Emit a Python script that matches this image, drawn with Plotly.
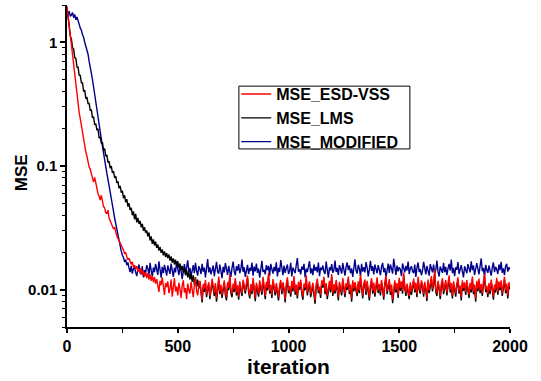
import plotly.graph_objects as go

# iteration axis (sampled every 5 iterations)
iterations = list(range(0, 2001, 5))

mse_esd_vss = [
    # 0 - 400
    1.95, 1.62, 1.35, 1.10, 0.92, 0.76, 0.64, 0.53, 0.45, 0.37,
    0.31, 0.27, 0.24, 0.21, 0.19, 0.165, 0.15, 0.13, 0.12, 0.105,
    0.098, 0.094, 0.088, 0.080, 0.074, 0.081, 0.072, 0.066, 0.060, 0.057,
    0.053, 0.058, 0.050, 0.047, 0.046, 0.042, 0.041, 0.044, 0.038, 0.036,
    0.035, 0.033, 0.031, 0.032, 0.029, 0.027, 0.026, 0.025, 0.024, 0.0225,
    0.022, 0.021, 0.0195, 0.020, 0.0185, 0.0175, 0.018, 0.0165, 0.016, 0.0168,
    0.0152, 0.0158, 0.0148, 0.0155, 0.0140, 0.0147, 0.0136, 0.0150, 0.0132, 0.0141,
    0.0128, 0.0138, 0.0124, 0.0136, 0.0121, 0.0133, 0.0118, 0.0129, 0.0115, 0.0127,
    0.0112,
    # 405 - 2000
    0.0122, 0.0104, 0.0096, 0.0118, 0.0109, 0.0126, 0.0099, 0.0091, 0.0113, 0.0105,
    0.0117, 0.0094, 0.0102, 0.0121, 0.0088, 0.0110, 0.0124, 0.0097, 0.0106, 0.0090,
    0.0114, 0.0101, 0.0086, 0.0108, 0.0119, 0.0095, 0.0103, 0.0084, 0.0112, 0.0099,
    0.0093, 0.0116, 0.0104, 0.0087, 0.0109, 0.0125, 0.0098, 0.0090, 0.0107, 0.0118,
    0.0096, 0.0083, 0.0111, 0.0102, 0.0120, 0.0092, 0.0105, 0.0115, 0.0089, 0.0100,
    0.0123, 0.0106, 0.0094, 0.0113, 0.0085, 0.0102, 0.0128, 0.0097, 0.0110, 0.0091,
    0.0108, 0.0119, 0.0096, 0.0087, 0.0115, 0.0104, 0.0133, 0.0099, 0.0092, 0.0112,
    0.0101, 0.0124, 0.0095, 0.0109, 0.0088, 0.0117, 0.0103, 0.0094, 0.0121, 0.0106,
    0.0098, 0.0113, 0.0130, 0.0100, 0.0090, 0.0111, 0.0097, 0.0125, 0.0105, 0.0086,
    0.0114, 0.0102, 0.0093, 0.0119, 0.0108, 0.0096, 0.0127, 0.0101, 0.0089, 0.0116,
    0.0104, 0.0137, 0.0098, 0.0110, 0.0091, 0.0122, 0.0106, 0.0095, 0.0113, 0.0100,
    0.0087, 0.0109, 0.0120, 0.0097, 0.0115, 0.0103, 0.0084, 0.0111, 0.0126, 0.0099,
    0.0107, 0.0093, 0.0118, 0.0102, 0.0129, 0.0096, 0.0110, 0.0090, 0.0116, 0.0105,
    0.0121, 0.0098, 0.0088, 0.0112, 0.0104, 0.0131, 0.0095, 0.0108, 0.0117, 0.0092,
    0.0101, 0.0114, 0.0096, 0.0082, 0.0110, 0.0123, 0.0099, 0.0106, 0.0091, 0.0119,
    0.0109, 0.0127, 0.0097, 0.0113, 0.0089, 0.0104, 0.0118, 0.0100, 0.0134, 0.0094,
    0.0111, 0.0098, 0.0120, 0.0103, 0.0087, 0.0116, 0.0107, 0.0095, 0.0124, 0.0100,
    0.0092, 0.0113, 0.0105, 0.0128, 0.0097, 0.0110, 0.0085, 0.0119, 0.0102, 0.0115,
    0.0106, 0.0094, 0.0117, 0.0099, 0.0132, 0.0103, 0.0090, 0.0112, 0.0121, 0.0096,
    0.0118, 0.0101, 0.0087, 0.0109, 0.0124, 0.0098, 0.0114, 0.0093, 0.0107, 0.0126,
    0.0099, 0.0111, 0.0095, 0.0120, 0.0104, 0.0088, 0.0116, 0.0130, 0.0097, 0.0108,
    0.0122, 0.0096, 0.0110, 0.0083, 0.0105, 0.0119, 0.0100, 0.0113, 0.0091, 0.0125,
    0.0103, 0.0117, 0.0098, 0.0138, 0.0107, 0.0094, 0.0112, 0.0101, 0.0089, 0.0115,
    0.0096, 0.0108, 0.0123, 0.0100, 0.0114, 0.0092, 0.0127, 0.0105, 0.0098, 0.0119,
    0.0110, 0.0093, 0.0116, 0.0104, 0.0086, 0.0121, 0.0099, 0.0111, 0.0129, 0.0102,
    0.0115, 0.0145, 0.0101, 0.0094, 0.0118, 0.0106, 0.0089, 0.0112, 0.0124, 0.0097,
    0.0107, 0.0120, 0.0095, 0.0109, 0.0131, 0.0100, 0.0113, 0.0090, 0.0117, 0.0104,
    0.0093, 0.0112, 0.0126, 0.0098, 0.0108, 0.0087, 0.0119, 0.0103, 0.0115, 0.0096,
    0.0120, 0.0104, 0.0091, 0.0114, 0.0100, 0.0128, 0.0097, 0.0110, 0.0085, 0.0118,
    0.0102, 0.0123, 0.0099, 0.0111, 0.0094, 0.0116, 0.0135, 0.0101, 0.0108, 0.0092,
    0.0113, 0.0097, 0.0121, 0.0105, 0.0088, 0.0110, 0.0100, 0.0125, 0.0096, 0.0117,
    0.0104, 0.0119, 0.0094, 0.0108, 0.0127, 0.0099, 0.0112, 0.0090, 0.0115, 0.0106,
]

mse_lms = [
    # 0 - 600
    1.90, 1.52, 1.36, 1.12, 1.06, 0.90, 0.88, 0.75, 0.74, 0.63,
    0.63, 0.54, 0.54, 0.47, 0.47, 0.40, 0.41, 0.35, 0.36, 0.32,
    0.32, 0.28, 0.285, 0.245, 0.25, 0.215, 0.22, 0.195, 0.20, 0.168,
    0.172, 0.152, 0.155, 0.134, 0.138, 0.12, 0.123, 0.107, 0.109, 0.096,
    0.10, 0.088, 0.091, 0.080, 0.083, 0.073, 0.075, 0.066, 0.069, 0.061,
    0.063, 0.055, 0.058, 0.051, 0.054, 0.047, 0.050, 0.044, 0.046, 0.040,
    0.043, 0.037, 0.041, 0.035, 0.038, 0.034, 0.036, 0.032, 0.034, 0.030,
    0.032, 0.029, 0.030, 0.027, 0.029, 0.025, 0.027, 0.0235, 0.0255, 0.0228,
    0.0245, 0.0218, 0.0232, 0.0207, 0.0222, 0.0199, 0.0212, 0.0190, 0.0204, 0.0184,
    0.0198, 0.0180, 0.0193, 0.0172, 0.0186, 0.0166, 0.0179, 0.0160, 0.0175, 0.0156,
    0.0170, 0.0150, 0.0163, 0.0144, 0.0156, 0.0138, 0.0150, 0.0131, 0.0145, 0.0126,
    0.0140, 0.0121, 0.0135, 0.0116, 0.0131, 0.0110, 0.0126, 0.0106, 0.0121, 0.0102,
    0.0117,
    # 605 - 2000
    0.0091, 0.0079, 0.0106, 0.0096, 0.0114, 0.0087, 0.0100, 0.0110, 0.0084, 0.0095,
    0.0116, 0.0101, 0.0089, 0.0108, 0.0080, 0.0097, 0.0121, 0.0092, 0.0104, 0.0086,
    0.0103, 0.0113, 0.0091, 0.0082, 0.0109, 0.0099, 0.0126, 0.0094, 0.0087, 0.0106,
    0.0096, 0.0118, 0.0090, 0.0104, 0.0083, 0.0111, 0.0098, 0.0089, 0.0115, 0.0101,
    0.0093, 0.0107, 0.0124, 0.0095, 0.0085, 0.0105, 0.0092, 0.0119, 0.0100, 0.0081,
    0.0108, 0.0097, 0.0088, 0.0113, 0.0103, 0.0091, 0.0121, 0.0096, 0.0084, 0.0110,
    0.0099, 0.0130, 0.0093, 0.0105, 0.0086, 0.0116, 0.0101, 0.0090, 0.0107, 0.0095,
    0.0082, 0.0104, 0.0114, 0.0092, 0.0109, 0.0098, 0.0079, 0.0105, 0.0120, 0.0094,
    0.0102, 0.0088, 0.0112, 0.0097, 0.0123, 0.0091, 0.0105, 0.0085, 0.0110, 0.0100,
    0.0115, 0.0093, 0.0083, 0.0106, 0.0099, 0.0124, 0.0090, 0.0103, 0.0111, 0.0087,
    0.0096, 0.0108, 0.0091, 0.0077, 0.0105, 0.0117, 0.0094, 0.0101, 0.0086, 0.0113,
    0.0104, 0.0121, 0.0092, 0.0107, 0.0084, 0.0099, 0.0112, 0.0095, 0.0127, 0.0089,
    0.0105, 0.0093, 0.0114, 0.0098, 0.0082, 0.0110, 0.0102, 0.0090, 0.0118, 0.0095,
    0.0087, 0.0107, 0.0100, 0.0122, 0.0092, 0.0104, 0.0080, 0.0113, 0.0097, 0.0109,
    0.0101, 0.0089, 0.0111, 0.0094, 0.0125, 0.0098, 0.0085, 0.0106, 0.0115, 0.0091,
    0.0112, 0.0096, 0.0082, 0.0104, 0.0118, 0.0093, 0.0108, 0.0088, 0.0102, 0.0120,
    0.0094, 0.0105, 0.0090, 0.0114, 0.0099, 0.0083, 0.0110, 0.0124, 0.0092, 0.0103,
    0.0116, 0.0091, 0.0105, 0.0078, 0.0100, 0.0113, 0.0095, 0.0107, 0.0086, 0.0119,
    0.0098, 0.0111, 0.0093, 0.0131, 0.0102, 0.0089, 0.0106, 0.0096, 0.0084, 0.0109,
    0.0091, 0.0103, 0.0117, 0.0095, 0.0108, 0.0087, 0.0121, 0.0100, 0.0093, 0.0113,
    0.0105, 0.0088, 0.0110, 0.0099, 0.0081, 0.0115, 0.0094, 0.0105, 0.0123, 0.0097,
    0.0109, 0.0136, 0.0096, 0.0089, 0.0112, 0.0101, 0.0084, 0.0106, 0.0118, 0.0092,
    0.0102, 0.0114, 0.0090, 0.0104, 0.0124, 0.0095, 0.0107, 0.0085, 0.0111, 0.0099,
    0.0088, 0.0106, 0.0120, 0.0093, 0.0103, 0.0082, 0.0113, 0.0098, 0.0109, 0.0091,
    0.0114, 0.0099, 0.0086, 0.0108, 0.0095, 0.0122, 0.0092, 0.0104, 0.0080, 0.0112,
    0.0097, 0.0117, 0.0094, 0.0105, 0.0089, 0.0110, 0.0128, 0.0096, 0.0103, 0.0087,
    0.0107, 0.0092, 0.0115, 0.0100, 0.0083, 0.0104, 0.0095, 0.0119, 0.0091, 0.0111,
    0.0099, 0.0113, 0.0089, 0.0103, 0.0121, 0.0094, 0.0106, 0.0085, 0.0109, 0.0101,
]

mse_modified = [
    # 0 - 300
    1.60, 1.72, 1.78, 1.62, 1.66, 1.74, 1.58, 1.68, 1.52, 1.60,
    1.45, 1.40, 1.30, 1.25, 1.15, 1.10, 1.00, 0.94, 0.85, 0.80,
    0.70, 0.64, 0.56, 0.50, 0.43, 0.38, 0.32, 0.28, 0.245, 0.215,
    0.185, 0.165, 0.145, 0.125, 0.112, 0.098, 0.087, 0.078, 0.068, 0.061,
    0.054, 0.048, 0.043, 0.038, 0.034, 0.030, 0.027, 0.025, 0.022, 0.0205,
    0.019, 0.0182, 0.0168, 0.0175, 0.0158, 0.0166, 0.0150, 0.0139, 0.0156, 0.0135,
    0.0148,
    # 305 - 2000
    0.0152, 0.0138, 0.0129, 0.0147, 0.0160, 0.0141, 0.0133, 0.0155, 0.0126, 0.0144,
    0.0137, 0.0158, 0.0149, 0.0131, 0.0165, 0.0143, 0.0128, 0.0151, 0.0139, 0.0162,
    0.0146, 0.0132, 0.0170, 0.0140, 0.0125, 0.0153, 0.0136, 0.0159, 0.0144, 0.0130,
    0.0157, 0.0141, 0.0134, 0.0163, 0.0148, 0.0127, 0.0150, 0.0138, 0.0168, 0.0145,
    0.0131, 0.0154, 0.0142, 0.0122, 0.0147, 0.0161, 0.0135, 0.0149, 0.0173, 0.0139,
    0.0150, 0.0128, 0.0144, 0.0158, 0.0136, 0.0165, 0.0142, 0.0130, 0.0155, 0.0147,
    0.0134, 0.0162, 0.0140, 0.0151, 0.0126, 0.0146, 0.0177, 0.0138, 0.0152, 0.0133,
    0.0145, 0.0157, 0.0129, 0.0149, 0.0168, 0.0140, 0.0135, 0.0160, 0.0143, 0.0124,
    0.0153, 0.0138, 0.0164, 0.0147, 0.0132, 0.0156, 0.0144, 0.0127, 0.0150, 0.0169,
    0.0140, 0.0131, 0.0155, 0.0143, 0.0161, 0.0136, 0.0148, 0.0175, 0.0139, 0.0152,
    0.0127, 0.0146, 0.0159, 0.0134, 0.0150, 0.0142, 0.0166, 0.0130, 0.0154, 0.0141,
    0.0163, 0.0137, 0.0148, 0.0125, 0.0152, 0.0171, 0.0139, 0.0145, 0.0133, 0.0158,
    0.0144, 0.0156, 0.0130, 0.0162, 0.0147, 0.0135, 0.0153, 0.0141, 0.0167, 0.0128,
    0.0150, 0.0139, 0.0174, 0.0145, 0.0131, 0.0157, 0.0137, 0.0149, 0.0160, 0.0134,
    0.0142, 0.0165, 0.0128, 0.0151, 0.0143, 0.0136, 0.0158, 0.0180, 0.0140, 0.0147,
    0.0133, 0.0154, 0.0145, 0.0162, 0.0126, 0.0148, 0.0139, 0.0156, 0.0170, 0.0135,
    0.0149, 0.0131, 0.0160, 0.0142, 0.0153, 0.0138, 0.0166, 0.0129, 0.0151, 0.0144,
    0.0157, 0.0140, 0.0134, 0.0169, 0.0146, 0.0125, 0.0152, 0.0143, 0.0161, 0.0137,
    0.0145, 0.0172, 0.0139, 0.0150, 0.0132, 0.0158, 0.0147, 0.0135, 0.0164, 0.0141,
    0.0130, 0.0153, 0.0166, 0.0144, 0.0157, 0.0136, 0.0149, 0.0127, 0.0155, 0.0176,
    0.0143, 0.0135, 0.0159, 0.0148, 0.0129, 0.0162, 0.0140, 0.0152, 0.0138, 0.0167,
    0.0151, 0.0128, 0.0146, 0.0171, 0.0142, 0.0155, 0.0133, 0.0160, 0.0147, 0.0136,
    0.0158, 0.0144, 0.0131, 0.0154, 0.0165, 0.0139, 0.0150, 0.0126, 0.0148, 0.0163,
    0.0137, 0.0160, 0.0148, 0.0135, 0.0178, 0.0145, 0.0132, 0.0157, 0.0141, 0.0152,
    0.0146, 0.0129, 0.0163, 0.0150, 0.0138, 0.0156, 0.0143, 0.0169, 0.0134, 0.0149,
    0.0155, 0.0141, 0.0136, 0.0160, 0.0127, 0.0151, 0.0166, 0.0139, 0.0147, 0.0131,
    0.0142, 0.0168, 0.0149, 0.0133, 0.0156, 0.0145, 0.0130, 0.0161, 0.0152, 0.0138,
    0.0160, 0.0135, 0.0144, 0.0172, 0.0140, 0.0128, 0.0154, 0.0146, 0.0137, 0.0165,
    0.0139, 0.0153, 0.0131, 0.0148, 0.0162, 0.0143, 0.0175, 0.0136, 0.0150, 0.0129,
    0.0152, 0.0145, 0.0167, 0.0134, 0.0147, 0.0158, 0.0140, 0.0126, 0.0155, 0.0143,
    0.0136, 0.0161, 0.0149, 0.0138, 0.0170, 0.0144, 0.0157, 0.0132, 0.0147, 0.0164,
    0.0148, 0.0133, 0.0156, 0.0179, 0.0141, 0.0150, 0.0127, 0.0159, 0.0145, 0.0137,
    0.0157, 0.0142, 0.0130, 0.0151, 0.0166, 0.0139, 0.0153, 0.0146, 0.0134, 0.0160,
    0.0144, 0.0168, 0.0137, 0.0149, 0.0131, 0.0155, 0.0162, 0.0140, 0.0152, 0.0146,
]

x_tick_vals = [0, 500, 1000, 1500, 2000]
x_minor_vals = [250, 750, 1250, 1750]
y_tick_vals = [0.01, 0.1, 1]
y_tick_text = ["0.01", "0.1", "1"]
y_minor_vals = [0.005, 0.006, 0.007, 0.008, 0.009,
                0.02, 0.03, 0.04, 0.05, 0.06, 0.07, 0.08, 0.09,
                0.2, 0.3, 0.4, 0.5, 0.6, 0.7, 0.8, 0.9, 2]

FONT = "Liberation Sans, Arial, sans-serif"

fig = go.Figure()
fig.add_trace(go.Scatter(x=iterations, y=mse_modified, mode="lines", name="MSE_MODIFIED",
                         line=dict(color="#00008B", width=1.4), legendrank=3))
fig.add_trace(go.Scatter(x=iterations, y=mse_lms, mode="lines", name="MSE_LMS",
                         line=dict(color="black", width=1.4), legendrank=2))
fig.add_trace(go.Scatter(x=iterations, y=mse_esd_vss, mode="lines", name="MSE_ESD-VSS",
                         line=dict(color="#FF0000", width=1.4), legendrank=1))

fig.update_layout(
    width=541, height=381,
    margin=dict(l=67, r=31, t=5, b=54),
    paper_bgcolor="white", plot_bgcolor="white",
    font=dict(family=FONT, color="black"),
    showlegend=True,
    legend=dict(x=0.382, y=0.776, xanchor="left", yanchor="top",
                borderwidth=0, bgcolor="rgba(0,0,0,0)",
                font=dict(family=FONT, size=16, weight="bold", color="black"),
                tracegroupgap=0, itemwidth=30),
)
# legend frame
fig.add_shape(type="rect", xref="paper", yref="paper",
              x0=0.388, x1=0.774, y0=0.553, y1=0.748,
              line=dict(color="black", width=1), fillcolor="white", layer="above")
fig.update_xaxes(
    range=[0, 2000], showgrid=False, zeroline=False,
    showline=True, linecolor="black", linewidth=1.5,
    ticks="outside", ticklen=4, tickwidth=1.5, tickcolor="black",
    tickvals=x_tick_vals,
    minor=dict(tickvals=x_minor_vals, ticks="outside", ticklen=4, tickwidth=1, tickcolor="black"),
    tickfont=dict(family=FONT, size=16, weight="bold", color="black"),
    title=dict(text="iteration", font=dict(family=FONT, size=21, weight="bold", color="black"), standoff=0),
)
fig.update_yaxes(
    type="log", range=[-2.301, 0.301], showgrid=False, zeroline=False,
    showline=True, linecolor="black", linewidth=1.5,
    ticks="outside", ticklen=5, tickwidth=1.5, tickcolor="black",
    tickvals=y_tick_vals, ticktext=y_tick_text,
    minor=dict(tickvals=y_minor_vals, ticks="outside", ticklen=3, tickwidth=1, tickcolor="black"),
    tickfont=dict(family=FONT, size=15, weight="bold", color="black"),
)
fig.add_annotation(text="MSE", xref="paper", yref="paper", x=-0.102, y=0.48,
                   xanchor="center", yanchor="middle", textangle=-90, showarrow=False,
                   font=dict(family=FONT, size=17, weight="bold", color="black"))

fig.write_html("out.html", config={"displayModeBar": False},
               post_script="document.body.style.margin='0';")
